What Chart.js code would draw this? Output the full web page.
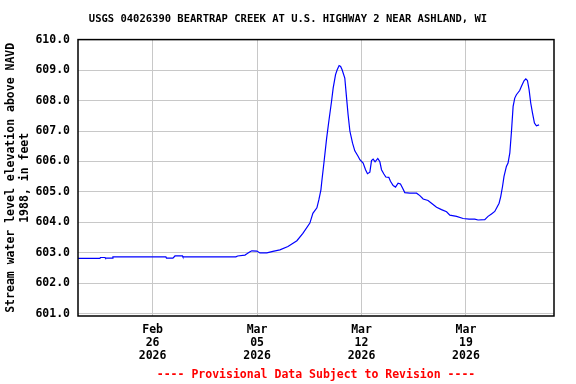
<!DOCTYPE html>
<html lang="en">
<head>
<meta charset="UTF-8" />
<title>USGS 04026390 Beartrap Creek</title>
<script src="https://cdn.jsdelivr.net/npm/chart.js"></script>
<style>
  html, body { margin: 0; padding: 0; background: #fff; }
</style>
</head>
<body>
<canvas id="chart" width="576" height="384"></canvas>
<script>
  // days since 2026-02-21 00:00, and gage height (ft above NAVD 1988)
  const days = [
    0, 1.47, 1.50, 1.81, 1.84, 2.30, 2.34, 5.89, 5.93, 6.36,
    6.50, 7.00, 7.03, 10.58, 10.70, 11.19, 11.32, 11.50, 11.65, 11.99,
    12.19, 12.66, 13.06, 13.53, 14.07, 14.67, 15.07, 15.54, 15.74, 16.01,
    16.14, 16.28, 16.34, 16.48, 16.66, 16.81, 16.99, 17.10, 17.26, 17.37,
    17.50, 17.60, 17.70, 17.88, 18.00, 18.10, 18.22, 18.40, 18.55, 18.77,
    18.89, 19.11, 19.27, 19.40, 19.56, 19.67, 19.78, 19.91, 20.09, 20.23,
    20.34, 20.50, 20.63, 20.83, 20.94, 21.12, 21.28, 21.45, 21.61, 21.75,
    21.90, 22.24, 22.69, 22.91, 23.13, 23.46, 23.69, 24.03, 24.36, 24.70,
    24.92, 25.37, 25.81, 26.21, 26.59, 26.81, 27.26, 27.48, 27.71, 27.93,
    28.08, 28.22, 28.33, 28.45, 28.55, 28.71, 28.82, 28.94, 29.05, 29.16,
    29.27, 29.38, 29.60, 29.72, 29.89, 30.01, 30.12, 30.23, 30.34, 30.46,
    30.59, 30.72, 30.90
  ];
  const stage = [
    602.82, 602.82, 602.85, 602.85, 602.83, 602.83, 602.87, 602.87, 602.83, 602.83,
    602.90, 602.90, 602.87, 602.87, 602.90, 602.93, 602.97, 603.03, 603.07, 603.06,
    603.00, 603.00, 603.05, 603.10, 603.21, 603.40, 603.64, 603.98, 604.30, 604.48,
    604.74, 605.07, 605.35, 605.95, 606.75, 607.32, 607.97, 608.41, 608.85, 609.01,
    609.15, 609.12, 609.01, 608.74, 608.08, 607.54, 607.00, 606.60, 606.35, 606.17,
    606.06, 605.95, 605.73, 605.60, 605.65, 606.03, 606.08, 605.99, 606.10, 605.99,
    605.73, 605.59, 605.49, 605.48, 605.35, 605.21, 605.16, 605.29, 605.26, 605.13,
    604.98, 604.96, 604.96, 604.88, 604.77, 604.72, 604.63, 604.50, 604.42, 604.35,
    604.24, 604.20, 604.13, 604.11, 604.11, 604.08, 604.09, 604.20, 604.28, 604.36,
    604.50, 604.63, 604.85, 605.18, 605.51, 605.84, 605.95, 606.28, 606.99, 607.81,
    608.08, 608.19, 608.33, 608.47, 608.65, 608.71, 608.66, 608.36, 607.92, 607.59,
    607.26, 607.17, 607.20
  ];

  const xTickDays = [5, 12, 19, 26];
  const xTickLabels = [
    ['Feb', '26', '2026'],
    ['Mar', '05', '2026'],
    ['Mar', '12', '2026'],
    ['Mar', '19', '2026']
  ];
  const yTicks = [601, 602, 603, 604, 605, 606, 607, 608, 609, 610];

  Chart.defaults.font.family = "'DejaVu Sans Mono', monospace";
  Chart.defaults.font.weight = 'bold';
  Chart.defaults.color = '#000';

  // black box round the plot area
  const frame = {
    id: 'frame',
    afterDatasetsDraw(chart) {
      const { ctx, chartArea: a } = chart;
      ctx.save();
      ctx.strokeStyle = '#000';
      ctx.lineWidth = 1.5;
      ctx.strokeRect(a.left, a.top, a.right - a.left, a.bottom - a.top);
      ctx.restore();
    }
  };

  new Chart(document.getElementById('chart'), {
    type: 'line',
    data: {
      datasets: [{
        data: days.map((d, i) => ({ x: d, y: stage[i] })),
        borderColor: '#0000ff',
        borderWidth: 1.2,
        pointRadius: 0,
        tension: 0,
        fill: false
      }]
    },
    options: {
      responsive: false,
      animation: false,
      layout: { padding: 0 },
      plugins: {
        legend: { display: false },
        tooltip: { enabled: false },
        title: {
          display: true,
          text: 'USGS 04026390 BEARTRAP CREEK AT U.S. HIGHWAY 2 NEAR ASHLAND, WI',
          color: '#000',
          font: { size: 10.5, weight: 'bold', lineHeight: 1.2 },
          padding: { top: 13, bottom: 14 }
        }
      },
      scales: {
        x: {
          type: 'linear',
          min: 0,
          max: 31.9,
          afterBuildTicks: s => { s.ticks = xTickDays.map(v => ({ value: v })); },
          afterFit: s => { s.height = 68; },
          grid: { color: '#c8c8c8', drawTicks: false },
          border: { display: false },
          ticks: {
            autoSkip: false,
            maxRotation: 0,
            padding: 8,
            font: { size: 11.5, lineHeight: 1.11 },
            callback: (v, i) => xTickLabels[i]
          },
          title: {
            display: true,
            text: '---- Provisional Data Subject to Revision ----',
            color: '#ff0000',
            font: { size: 11.5, lineHeight: 1.2 },
            padding: { top: 0, bottom: 2 }
          }
        },
        y: {
          min: 600.93,
          max: 610.0,
          afterBuildTicks: s => { s.ticks = yTicks.map(v => ({ value: v })); },
          afterFit: s => { s.width = 78; },
          grid: { color: '#c8c8c8', drawTicks: false },
          border: { display: false },
          ticks: {
            padding: 8,
            font: { size: 11.5 },
            callback: v => v.toFixed(1)
          },
          title: {
            display: true,
            text: ['Stream water level elevation above NAVD', '1988, in feet'],
            font: { size: 11.5, lineHeight: 1.2 },
            padding: { top: 4, bottom: 0 }
          }
        },
        // empty right-hand margin so the title stays centred on the page
        yRight: {
          position: 'right',
          min: 600.93,
          max: 610.0,
          afterFit: s => { s.width = 22; },
          grid: { display: false },
          border: { display: false },
          ticks: { display: false }
        }
      }
    },
    plugins: [frame]
  });
</script>
</body>
</html>
